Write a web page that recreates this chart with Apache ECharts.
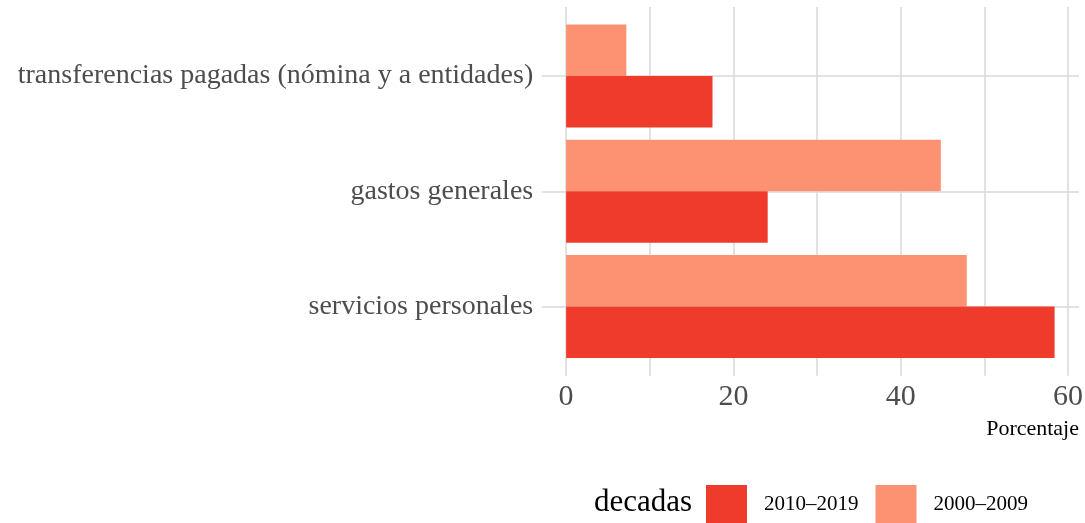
<!DOCTYPE html>
<html>
<head>
<meta charset="utf-8">
<script src="https://cdn.jsdelivr.net/npm/echarts@6/dist/echarts.min.js"></script>
<style>
html,body{margin:0;padding:0;background:#fff;}
#chart{width:1085px;height:523px;}
</style>
</head>
<body>
<div id="chart"></div>
<script>
const categories = ['transferencias pagadas (nómina y a entidades)', 'gastos generales', 'servicios personales'];
const seriesNames = ['2000–2009', '2010–2019'];
const values2000 = [7.2, 44.8, 47.9];
const values2010 = [17.5, 24.1, 58.4];
const legendOrder = ['2010–2019', '2000–2009'];
const xTickLabels = [0, 20, 40, 60];
const xMin = -2.92, xMax = 61.32;

const FONT = 'Liberation Serif';
const GRID_COLOR = '#d9d9d9';

const chart = echarts.init(document.getElementById('chart'), null, {renderer: 'canvas'});
chart.setOption({
  animation: false,
  backgroundColor: '#ffffff',
  grid: [
    {left: 541.7, right: 6, top: 7, bottom: 147.3, containLabel: false, outerBoundsMode: 'none'},
    {left: 541.7, right: 6, top: 18.4, bottom: 158.9, containLabel: false, outerBoundsMode: 'none'}
  ],
  xAxis: [
    {
      gridIndex: 0, type: 'value', min: xMin, max: xMax, splitNumber: 7,
      axisLine: {show: false, onZero: false}, axisTick: {show: false},
      axisLabel: {
        show: true, margin: 6, fontFamily: FONT, fontSize: 30, color: '#4d4d4d',
        showMinLabel: false, showMaxLabel: false,
        formatter: v => (xTickLabels.indexOf(Math.round(v * 1000) / 1000) >= 0 ? String(v) : '')
      },
      splitLine: {show: true, showMinLine: false, showMaxLine: false, lineStyle: {color: GRID_COLOR, width: 1.5}}
    },
    {
      gridIndex: 1, type: 'value', min: xMin, max: xMax, show: false,
      axisLine: {onZero: false},
      splitLine: {show: false}
    }
  ],
  yAxis: [
    {gridIndex: 0, type: 'value', min: 0, max: 1, show: false, axisLine: {onZero: false}, splitLine: {show: false}},
    {
      gridIndex: 1, type: 'category', data: categories, inverse: true, boundaryGap: true,
      axisLine: {show: false, onZero: false},
      axisTick: {show: true, alignWithLabel: true, inside: true, length: 537.3, lineStyle: {color: GRID_COLOR, width: 1.5}},
      axisLabel: {margin: 8.5, fontFamily: FONT, fontSize: 28, color: '#4d4d4d', padding: [7, 0, 0, 0]},
      splitLine: {show: false}
    }
  ],
  legend: {
    data: legendOrder,
    left: 706, top: 485, padding: 0,
    itemWidth: 41, itemHeight: 38, itemGap: 17,
    icon: 'rect',
    textStyle: {fontFamily: FONT, fontSize: 21, color: '#000', padding: [0, 0, 0, 12]},
    selectedMode: false
  },
  graphic: [
    {type: 'text', right: 6, top: 418, style: {text: 'Porcentaje', fontFamily: FONT, fontSize: 22, fill: '#000'}},
    {type: 'text', left: 594, top: 487, style: {text: 'decadas', fontFamily: FONT, fontSize: 31, fill: '#000'}}
  ],
  series: [
    {
      name: seriesNames[0], type: 'bar', xAxisIndex: 1, yAxisIndex: 1, data: values2000,
      barGap: '0%', barCategoryGap: '10.8%', itemStyle: {color: '#FC9272'}
    },
    {
      name: seriesNames[1], type: 'bar', xAxisIndex: 1, yAxisIndex: 1, data: values2010,
      barGap: '0%', barCategoryGap: '10.8%', itemStyle: {color: '#EF3B2C'}
    }
  ]
});
</script>
</body>
</html>
